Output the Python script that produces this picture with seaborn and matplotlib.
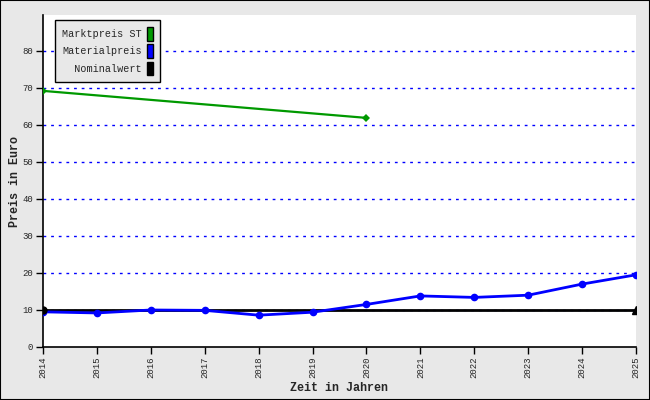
import matplotlib
matplotlib.use("Agg")
import matplotlib.pyplot as plt
import matplotlib.patches as mpatches
import pandas as pd
import seaborn as sns

# values
markt_years = [2014, 2020]
markt_price = [69.2, 61.9]

material_years = [2014, 2015, 2016, 2017, 2018, 2019, 2020, 2021, 2022, 2023, 2024, 2025]
material_price = [9.5, 9.2, 10.0, 9.9, 8.6, 9.4, 11.5, 13.8, 13.4, 14.0, 17.0, 19.5]

nominal_years = [2014, 2025]
nominal_value = [10, 10]

series_labels = ["Marktpreis ST", "Materialpreis", "  Nominalwert"]
y_ticks = [0, 10, 20, 30, 40, 50, 60, 70, 80]

GREEN = "#009900"
BLUE = "#0000ff"
BLACK = "#000000"
BG = "#e8e8e8"

sns.set_style("white")
plt.rcParams["font.family"] = ["Liberation Mono", "DejaVu Sans Mono"]

fig = plt.figure(figsize=(6.5, 4.0), dpi=100, facecolor=BG)
ax = fig.add_axes([43 / 650, 53 / 400, 593 / 650, 332 / 400])
ax.set_facecolor("white")

markt_df = pd.DataFrame({"Jahr": markt_years, "Preis": markt_price})
material_df = pd.DataFrame({"Jahr": material_years, "Preis": material_price})
nominal_df = pd.DataFrame({"Jahr": nominal_years, "Preis": nominal_value})

sns.lineplot(data=markt_df, x="Jahr", y="Preis", ax=ax, color=GREEN, linewidth=1.6,
             marker="D", markersize=4, markeredgewidth=0, zorder=3)
sns.lineplot(data=nominal_df, x="Jahr", y="Preis", ax=ax, color=BLACK, linewidth=2, zorder=3)
ax.plot(nominal_years[0], nominal_value[0], "o", color=BLACK, markersize=5, zorder=5)
ax.plot(nominal_years[-1], nominal_value[-1], "^", color=BLACK, markersize=5.5, zorder=5)
sns.lineplot(data=material_df, x="Jahr", y="Preis", ax=ax, color=BLUE, linewidth=2,
             marker="o", markersize=5.5, markeredgewidth=0, zorder=4)

ax.set_xlim(2014, 2025)
ax.set_ylim(0, 89.7)
ax.set_xticks(material_years)
ax.set_xticklabels([str(y) for y in material_years], rotation=90, fontsize=6.5)
ax.set_yticks(y_ticks)
ax.set_yticklabels([str(v) for v in y_ticks], fontsize=6.5)
ax.tick_params(axis="both", direction="out", length=5, width=1, color=BLACK, pad=2,
               bottom=True, left=True)

for v in y_ticks[1:]:
    ax.axhline(v, color=BLUE, linewidth=1, linestyle=(0, (2, 3.5)), zorder=1)

for side in ["top", "right"]:
    ax.spines[side].set_visible(False)
for side in ["left", "bottom"]:
    ax.spines[side].set_color(BLACK)
    ax.spines[side].set_linewidth(1.2)

ax.set_xlabel("Zeit in Jahren", fontsize=8.5, fontweight="bold", labelpad=3)
ax.set_ylabel("Preis in Euro", fontsize=8.5, fontweight="bold", labelpad=1)

handles = [mpatches.Patch(facecolor=c, edgecolor=BLACK, linewidth=1) for c in (GREEN, BLUE, BLACK)]
leg = ax.legend(handles, series_labels, loc="upper left", bbox_to_anchor=(0.02, 0.985),
                borderaxespad=0, markerfirst=False, fontsize=7.3, frameon=True, fancybox=False,
                handlelength=0.6, handleheight=1.7, handletextpad=0.5, labelspacing=0.35,
                borderpad=0.7)
leg.get_frame().set_facecolor(BG)
leg.get_frame().set_edgecolor(BLACK)
leg.get_frame().set_alpha(1)
leg.get_frame().set_linewidth(1)

fig.patches.append(mpatches.Rectangle((0, 0), 1, 1, transform=fig.transFigure, fill=False,
                                      edgecolor=BLACK, linewidth=1.5))

fig.savefig("out.png", dpi=100, facecolor=BG)
